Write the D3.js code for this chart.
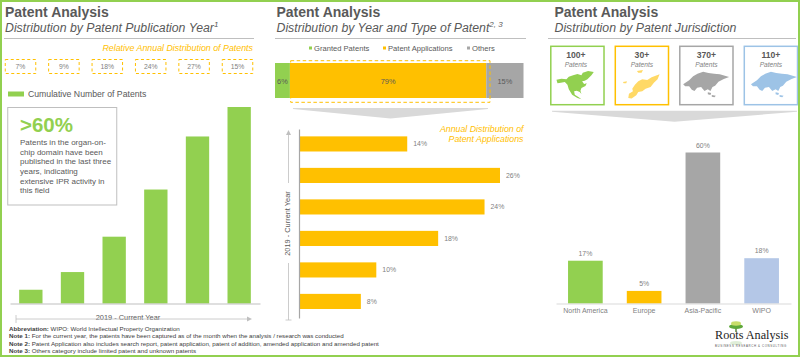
<!DOCTYPE html>
<html>
<head>
<meta charset="utf-8">
<title>Patent Analysis</title>
<script src="https://d3js.org/d3.v7.min.js"></script>
<style>
  html, body { margin: 0; padding: 0; background: #fff; }
  svg { display: block; font-family: "Liberation Sans", Arial, sans-serif; }
</style>
</head>
<body>
<svg id="chart" width="800" height="357"></svg>
<script>
/*********************************
   DATA
 *********************************/

// Left Panel: Publication Year
const yearSlots = ["y1", "y2", "y3", "y4", "y5", "y6"];
const relativeShare = [7, 9, 18, 24, 27, 15];
const cumulativeShare = [7, 16, 34, 58, 85, 100];

// Middle Panel: Type Of Patent & Annual Applications
const patentTypes = ["Granted Patents", "Patent Applications", "Others"];
const patentTypeShare = [6, 79, 15];
const applicationShare = [14, 26, 24, 18, 10, 8];

// Right Panel: Jurisdiction
const jurisdictions = ["North America", "Europe", "Asia-Pacific", "WIPO"];
const jurisdictionShare = [17, 5, 60, 18];
const jurisdictionCounts = ["100+", "30+", "370+", "110+"];

const calloutLines = ["Patents in the organ-on-", "chip domain have been", "published in the last three", "years, indicating", "extensive IPR activity in", "this field"];
const footnotes = [
  ["Abbreviation:", " WIPO: World Intellectual Property Organization"],
  ["Note 1:", " For the current year, the patents have been captured as of the month when the analysis / research was conducted"],
  ["Note 2:", " Patent Application also includes search report, patent application, patent of addition, amended application and amended patent"],
  ["Note 3:", " Others category include limited patent and unknown patents"]
];

// Colours
const green = "#92D050", yellow = "#FFC000", grey = "#A6A6A6", textGrey = "#7F7F7F", darkGrey = "#595959";
const typeColors = [green, yellow, grey];
const jurisdictionColors = [green, yellow, grey, "#B4C7E7"];
const cardColors = [green, yellow, grey, "#9DC3E6"];
const mapColors = [green, "#FFD966", grey, "#9DC3E6"];

const svg = d3.select("#chart");

/*********************************
   SHARED HELPERS
 *********************************/

function addText(x, y, str, size, fill, opts) {
  opts = opts || {};
  return svg.append("text").attr("x", x).attr("y", y).text(str)
    .attr("font-size", size).attr("fill", fill)
    .attr("text-anchor", opts.anchor || "start")
    .attr("font-weight", opts.bold ? "bold" : "normal")
    .attr("font-style", opts.italic ? "italic" : "normal");
}

// Panel Heading, Sub Heading & Rule
function drawHeading(x, subtitle, sup, ruleX1, ruleX2) {
  addText(x, 16.5, "Patent Analysis", 14, darkGrey, { bold: true });
  let sub = addText(x, 32, subtitle, 12.3, darkGrey, { italic: true });
  if (sup) sub.append("tspan").attr("font-size", 8).attr("dy", -5).text(sup);
  svg.append("line").attr("x1", ruleX1).attr("x2", ruleX2).attr("y1", 38.5).attr("y2", 38.5)
    .attr("stroke", "#BFBFBF").attr("stroke-width", 1);
}

// Grey Chevron Pointing Down Between Sections
function drawFunnel(x1, x2, top, depth) {
  let mid = (x1 + x2) / 2;
  svg.append("path").attr("fill", "#D9D9D9")
    .attr("d", "M" + x1 + "," + top + "L" + x2 + "," + top + "L" + x2 + "," + (top + 1) + "L" + mid + "," + (top + depth) + "L" + x1 + "," + (top + 1) + "Z");
}

function arrowHead(x, y, dir) {
  let p = dir == "up" ? [[x, y], [x - 2.5, y + 5], [x + 2.5, y + 5]] : [[x, y], [x - 5, y - 2.5], [x - 5, y + 2.5]];
  svg.append("path").attr("fill", "#BFBFBF").attr("d", "M" + p.join("L") + "Z");
}

// Baseline Only Axis (No Ticks)
function styleAxis(g, color) {
  g.selectAll(".tick line").remove();
  g.select(".domain").attr("stroke", color).attr("stroke-width", 1.2);
}

/*********************************
   LEFT PANEL
 *********************************/

drawHeading(5, "Distribution by Patent Publication Year", "1", 4, 254);
addText(253, 51, "Relative Annual Distribution of Patents", 8.85, yellow, { anchor: "end", italic: true });

// Dashed Percent Boxes
let boxScale = d3.scalePoint().domain(yearSlots).range([20.5, 237.5]);
yearSlots.forEach((d, i) => {
  svg.append("rect").attr("x", boxScale(d) - 15.25).attr("y", 59.5).attr("width", 30.5).attr("height", 14)
    .attr("fill", "none").attr("stroke", yellow).attr("stroke-width", 1).attr("stroke-dasharray", "3,2.5");
  addText(boxScale(d), 69, relativeShare[i] + "%", 6.8, textGrey, { anchor: "middle" });
});

// Legend
svg.append("rect").attr("x", 8).attr("y", 91.5).attr("width", 16).attr("height", 5).attr("fill", green);
addText(28, 97, "Cumulative Number of Patents", 8.7, darkGrey);

// Cumulative Bars
let leftX = d3.scaleBand().domain(yearSlots).range([10, 260]).paddingInner(0.44).paddingOuter(0.22);
let leftY = d3.scaleLinear().domain([0, 100]).range([303.5, 107]);
svg.selectAll("rect.cumulative").data(cumulativeShare).enter().append("rect").attr("class", "cumulative")
  .attr("x", (d, i) => leftX(yearSlots[i])).attr("width", leftX.bandwidth())
  .attr("y", d => leftY(d)).attr("height", d => leftY(0) - leftY(d)).attr("fill", green);
svg.append("g").attr("transform", "translate(0,303.5)")
  .call(d3.axisBottom(leftX).tickSize(0).tickFormat("").tickSizeOuter(0))
  .call(g => styleAxis(g, "#BFBFBF"));

// Callout Box
svg.append("rect").attr("x", 7.75).attr("y", 107.5).attr("width", 109).attr("height", 97.5)
  .attr("fill", "#fff").attr("stroke", "#BFBFBF").attr("stroke-width", 1);
addText(20, 132, ">60%", 20.5, green, { bold: true });
calloutLines.forEach((d, i) => addText(20, 145 + i * 9.65, d, 8, darkGrey));

// Horizontal Year Arrow
addText(128, 319.5, "2019 - Current Year", 7.4, darkGrey, { anchor: "middle" });
svg.append("line").attr("x1", 16).attr("x2", 248).attr("y1", 319).attr("y2", 319).attr("stroke", "#BFBFBF").attr("stroke-width", 0.8);
svg.append("line").attr("x1", 16).attr("x2", 16).attr("y1", 315).attr("y2", 323).attr("stroke", "#BFBFBF").attr("stroke-width", 0.8);
arrowHead(252, 319, "right");

// Footnotes
footnotes.forEach((d, i) => {
  let t = addText(9, 330.5 + i * 7.6, "", 6.2, "#404040");
  t.append("tspan").attr("font-weight", "bold").text(d[0]);
  t.append("tspan").text(d[1]);
});

/*********************************
   MIDDLE PANEL
 *********************************/

drawHeading(276.5, "Distribution by Year and Type of Patent", "2, 3", 275, 526);

// Legend
let legendPos = [309, 383, 467];
patentTypes.forEach((d, i) => {
  svg.append("rect").attr("x", legendPos[i]).attr("y", 46.5).attr("width", 3).attr("height", 3).attr("fill", typeColors[i]);
  addText(legendPos[i] + 5, 51, d, 7.6, darkGrey);
});

// Stacked Share Bar
let stackX = d3.scaleLinear().domain([0, 100]).range([275, 523.5]);
let offset = d3.cumsum(patentTypeShare);
svg.selectAll("rect.stack").data(patentTypeShare).enter().append("rect").attr("class", "stack")
  .attr("x", (d, i) => stackX(offset[i] - d)).attr("width", d => stackX(d) - stackX(0))
  .attr("y", 63).attr("height", 35).attr("fill", (d, i) => typeColors[i]);
svg.selectAll("text.stack").data(patentTypeShare).enter().append("text").attr("class", "stack")
  .attr("x", (d, i) => stackX(offset[i] - d / 2)).attr("y", 84)
  .attr("text-anchor", "middle").attr("font-size", 7.4).attr("fill", darkGrey).text(d => d + "%");
svg.append("rect").attr("x", 290.7).attr("y", 60.7).attr("width", 199.3).attr("height", 41.6)
  .attr("fill", "none").attr("stroke", yellow).attr("stroke-width", 1).attr("stroke-dasharray", "3.5,2.5");

drawFunnel(293, 488, 108, 10.5);

addText(523.5, 131.5, "Annual Distribution of", 8.8, yellow, { anchor: "end", italic: true });
addText(523.5, 141.5, "Patent Applications", 8.8, yellow, { anchor: "end", italic: true });

// Annual Application Bars
let appX = d3.scaleLinear().domain([0, 26]).range([299, 500]);
let appY = d3.scaleBand().domain(yearSlots).range([129, 318]).paddingInner(0.52).paddingOuter(0.26).align(0.45);
svg.selectAll("rect.application").data(applicationShare).enter().append("rect").attr("class", "application")
  .attr("x", appX(0)).attr("width", d => appX(d) - appX(0))
  .attr("y", (d, i) => appY(yearSlots[i])).attr("height", appY.bandwidth()).attr("fill", yellow);
svg.selectAll("text.application").data(applicationShare).enter().append("text").attr("class", "application")
  .attr("x", d => appX(d) + 6).attr("y", (d, i) => appY(yearSlots[i]) + appY.bandwidth() / 2 + 2.5)
  .attr("font-size", 6.9).attr("fill", textGrey).text(d => d + "%");
svg.append("g").attr("transform", "translate(299,0)")
  .call(d3.axisLeft(appY).tickSize(0).tickFormat("").tickSizeOuter(0))
  .call(g => styleAxis(g, "#A6A6A6"));

// Vertical Year Arrow
svg.append("line").attr("x1", 288.5).attr("x2", 288.5).attr("y1", 134).attr("y2", 183).attr("stroke", "#BFBFBF").attr("stroke-width", 0.8);
svg.append("line").attr("x1", 288.5).attr("x2", 288.5).attr("y1", 263).attr("y2", 320).attr("stroke", "#BFBFBF").attr("stroke-width", 0.8);
svg.append("line").attr("x1", 285.5).attr("x2", 291.5).attr("y1", 320).attr("y2", 320).attr("stroke", "#BFBFBF").attr("stroke-width", 0.8);
arrowHead(288.5, 130, "up");
addText(0, 0, "2019 - Current Year", 7.4, darkGrey, { anchor: "middle" })
  .attr("transform", "translate(289.5,223.5) rotate(-90)");

/*********************************
   RIGHT PANEL
 *********************************/

drawHeading(554.5, "Distribution by Patent Jurisdiction", null, 548, 796);

// Region Outlines (Decorative, Traced At 3x)
const naPath = "M2,71L17,68L32,70L39,62L52,58L65,54L77,58L81,50L97,45L114,48L107,58L95,70L87,74L79,76L85,84L93,82L89,90L77,96L74,104L77,114L72,108L63,104L55,106L57,116L69,124L77,130L65,126L49,116L39,100L35,86L27,78L15,80L5,82Z";
const euPath = "M142,55L136,70L125,80L115,93L100,98L90,106L78,108L72,118L58,128L48,126L50,113L62,106L60,98L68,86L78,76L90,70L105,72L118,64L128,60ZM74,45L92,42L88,50L78,50ZM32,78L44,76L42,82L34,82Z";
const asPath = "M2,88L20,76L32,64L45,56L62,50L78,54L95,56L112,58L140,66L124,72L108,80L98,92L90,96L84,108L76,103L66,108L56,96L44,98L36,108L28,104L20,94L8,94ZM76,112L86,114L84,120L76,118ZM88,120L100,122L96,127L88,125Z";
const cardX = d3.scaleBand().domain(jurisdictions).range([550.8, 797.5]).paddingInner(0.175);
const mapShapes = [naPath, euPath, asPath, asPath];
const mapOffsets = [[5, 56], [-3, 56], [2.7, 55], [6, 55]];
jurisdictions.forEach((d, i) => {
  let x = cardX(d), w = cardX.bandwidth(), cx = x + w / 2;
  svg.append("rect").attr("x", x).attr("y", 46.3).attr("width", w).attr("height", 58.4)
    .attr("fill", "#fff").attr("stroke", cardColors[i]).attr("stroke-width", 1.5);
  addText(cx - (i == 0 ? 1.5 : 0), 57.5, jurisdictionCounts[i], 8.6, darkGrey, { anchor: "middle", bold: true });
  addText(cx - (i == 0 ? 1.5 : 0), 67, "Patents", 6.6, textGrey, { anchor: "middle", italic: true });
  svg.append("path").attr("d", mapShapes[i]).attr("fill", mapColors[i])
    .attr("transform", "translate(" + (x + mapOffsets[i][0]) + "," + mapOffsets[i][1] + ") scale(0.333)");
});

drawFunnel(552, 797, 110.7, 11);

// Jurisdiction Bars
let rightX = d3.scaleBand().domain(jurisdictions).range([556, 791]).paddingInner(0.41).paddingOuter(0.205);
let rightY = d3.scaleLinear().domain([0, 60]).range([303.5, 152.5]);
svg.selectAll("rect.jurisdiction").data(jurisdictionShare).enter().append("rect").attr("class", "jurisdiction")
  .attr("x", (d, i) => rightX(jurisdictions[i])).attr("width", rightX.bandwidth())
  .attr("y", d => rightY(d)).attr("height", d => rightY(0) - rightY(d)).attr("fill", (d, i) => jurisdictionColors[i]);
svg.selectAll("text.jurisdiction").data(jurisdictionShare).enter().append("text").attr("class", "jurisdiction")
  .attr("x", (d, i) => rightX(jurisdictions[i]) + rightX.bandwidth() / 2).attr("y", d => rightY(d) - 5)
  .attr("text-anchor", "middle").attr("font-size", 6.9).attr("fill", textGrey).text(d => d + "%");
svg.append("g").attr("transform", "translate(0,303.5)")
  .call(d3.axisBottom(rightX).tickSize(0).tickPadding(5).tickSizeOuter(0))
  .call(g => {
    styleAxis(g, "#D9D9D9");
    g.selectAll("text").attr("font-size", 7).attr("fill", textGrey).attr("font-family", "Liberation Sans");
  });

/*********************************
   LOGO & OUTER BORDER
 *********************************/

svg.append("line").attr("x1", 736).attr("x2", 736).attr("y1", 325).attr("y2", 332).attr("stroke", "#4E7A2E").attr("stroke-width", 1.4);
svg.append("ellipse").attr("cx", 736).attr("cy", 326.5).attr("rx", 7).attr("ry", 2.6).attr("fill", "#5FA83A");
svg.append("ellipse").attr("cx", 736).attr("cy", 323.5).attr("rx", 5).attr("ry", 2.2).attr("fill", "#C9DD6A");
svg.append("ellipse").attr("cx", 736).attr("cy", 343).attr("rx", 6).attr("ry", 2).attr("fill", "#5FA83A").attr("opacity", 0.2);
svg.append("text").attr("x", 715).attr("y", 339).attr("font-family", "Liberation Serif").attr("font-size", 12.2).attr("fill", "#222").text("Roots Analysis");
svg.append("text").attr("x", 715).attr("y", 347).attr("font-size", 2.9).attr("letter-spacing", 0.6).attr("fill", "#555").text("BUSINESS RESEARCH & CONSULTING");

svg.append("rect").attr("x", 1).attr("y", 1).attr("width", 798).attr("height", 355)
  .attr("fill", "none").attr("stroke", green).attr("stroke-width", 2);
</script>
</body>
</html>
